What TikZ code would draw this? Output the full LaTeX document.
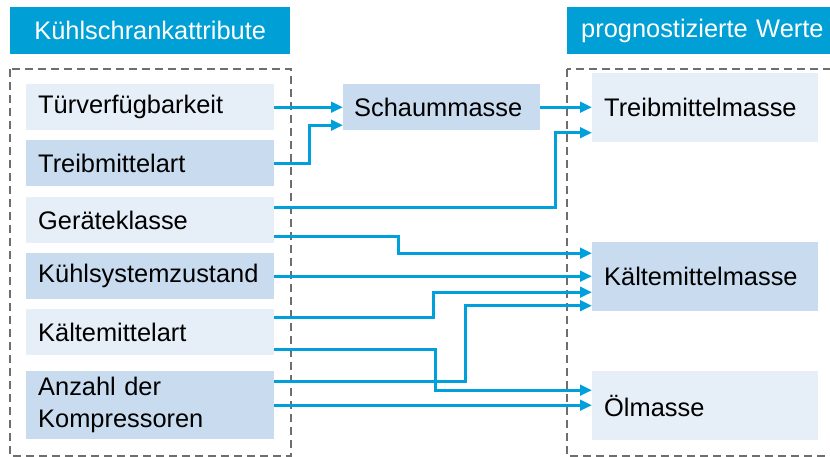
\documentclass[tikz,border=0pt]{standalone}
\usepackage{fontspec}
\setmainfont{Liberation Sans}
\usetikzlibrary{arrows.meta}
\definecolor{kblau}{HTML}{00A0DC}
\definecolor{kkopf}{HTML}{009FD6}
\definecolor{khell}{HTML}{E6EEF8}
\definecolor{kdunkel}{HTML}{C9DCEF}
\definecolor{kgrau}{HTML}{6E6E6E}
\begin{document}
\begin{tikzpicture}[x=1pt, y=-1pt, font=\fontsize{25.4}{32}\selectfont, line join=miter, >={Triangle[length=12pt,width=10.5pt]}]
	\tikzset{
		kopf/.style={fill=kkopf, text=white, anchor=north west, minimum height=47pt, inner sep=0pt},
		attr/.style={anchor=north west, minimum width=248pt, minimum height=46pt, text width=224pt, align=left, inner xsep=12pt, inner ysep=0pt},
		ziel/.style={anchor=north west, minimum width=226pt, minimum height=69pt, text width=202pt, align=left, inner xsep=12pt, inner ysep=0pt},
		pfeil/.style={draw=kblau, line width=3.2pt, ->},
		rahmen/.style={draw=kgrau, line width=1.8pt, dash pattern=on 8pt off 5pt}
	}
	\clip (0,0) rectangle (830,457);
	% Kopfzeilen
	\node[kopf, minimum width=280pt] (hl) at (10,7) {Kühlschrankattribute};
	\node[kopf, minimum width=263pt, text width=249pt, align=left, inner xsep=14pt] (hr) at (567,7) {prognostizierte Werte};
	% Rahmen
	\draw[rahmen] (10,69) rectangle (291,456);
	\draw[rahmen] (567,69) rectangle (845,456);
	% Attribute
	\node[attr, fill=khell] (tv) at (26,84) {Türverfügbarkeit};
	\node[attr, fill=kdunkel] (ta) at (26,140) {Treibmittelart};
	\node[attr, fill=khell] (gk) at (26,197) {Geräteklasse};
	\node[attr, fill=kdunkel] (kz) at (26,253) {Kühlsystemzustand};
	\node[attr, fill=khell] (ka) at (26,309) {Kältemittelart};
	\node[attr, fill=kdunkel, minimum height=68pt] (an) at (26,371) {Anzahl der\\Kompressoren};
	\node[attr, fill=kdunkel, minimum width=197pt, text width=175pt, inner xsep=11pt] (sm) at (343,84) {Schaummasse};
	% Zielwerte
	\node[ziel, fill=khell] (tm) at (592,73) {Treibmittelmasse};
	\node[ziel, fill=kdunkel] (km) at (592,242) {Kältemittelmasse};
	\node[ziel, fill=khell] (om) at (592,371) {Ölmasse};
	% Verbindungen
	\draw[pfeil] (tv.east) -- (tv.east -| sm.west);
	\draw[pfeil] (ta.east) -- ++(35,0) |- ([yshift=-18pt]sm.west);
	\draw[pfeil] (sm.east) -- (sm.east -| tm.west);
	\draw[pfeil] ([yshift=13pt]gk.east) -- ++(281,0) |- ([yshift=-25pt]tm.west);
	\draw[pfeil] ([yshift=-16pt]gk.east) -- ++(124,0) |- ([yshift=23.5pt]km.west);
	\draw[pfeil] (kz.east) -- (kz.east -| km.west);
	\draw[pfeil] ([yshift=15pt]ka.east) -- ++(159,0) |- ([yshift=-15.5pt]km.west);
	\draw[pfeil] ([yshift=-17pt]ka.east) -- ++(161,0) |- ([yshift=15.5pt]om.west);
	\draw[pfeil] ([yshift=24pt]an.east) -- ++(191,0) |- ([yshift=-29pt]km.west);
	\draw[pfeil] (an.east) -- (an.east -| om.west);
\end{tikzpicture}
\end{document}
